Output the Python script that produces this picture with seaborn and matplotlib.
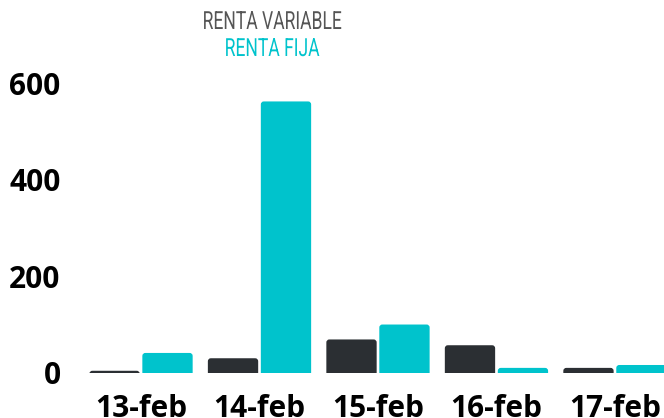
import seaborn as sns
import matplotlib.pyplot as plt
import pandas as pd
from matplotlib.patches import FancyBboxPatch
from matplotlib import patheffects
from matplotlib.transforms import Affine2D

dates = ["13-feb", "14-feb", "15-feb", "16-feb", "17-feb"]
renta_variable = [4, 30, 69, 57, 10]
renta_fija = [41, 563, 100, 10, 16]
series_names = ["RENTA VARIABLE", "RENTA FIJA"]
y_ticks = [0, 200, 400, 600]

dark = "#2b2f33"
teal = "#00c3cc"


class SqueezeX(patheffects.AbstractPathEffect):
    # narrow the glyphs around a centre x (no condensed font installed)
    def __init__(self, sx, cx):
        super().__init__()
        self.sx = sx
        self.cx = cx

    def draw_path(self, renderer, gc, tpath, affine, rgbFace=None):
        t = affine + Affine2D().translate(-self.cx, 0).scale(self.sx, 1).translate(self.cx, 0)
        renderer.draw_path(gc, tpath, t, rgbFace)


def round_bar_tops(ax, radius_px=3):
    # swap the square bars for ones with slightly rounded top corners
    bbox = ax.get_window_extent()
    x0, x1 = ax.get_xlim()
    y0, y1 = ax.get_ylim()
    px_x = bbox.width / (x1 - x0)
    px_y = bbox.height / (y1 - y0)
    rx = radius_px / px_x
    ry = radius_px / px_y
    for bar in list(ax.patches):
        x, y = bar.get_x(), bar.get_y()
        w, h = bar.get_width(), bar.get_height()
        if h <= 0:
            continue
        r = min(rx, w / 2)
        new_bar = FancyBboxPatch((x, y - ry), w, h + ry,
                                 boxstyle=f"round,pad=0,rounding_size={r}",
                                 mutation_aspect=ry / r,
                                 facecolor=bar.get_facecolor(), edgecolor="none",
                                 clip_on=True)
        bar.set_visible(False)
        ax.add_patch(new_bar)


def plot_renta():
    df = pd.DataFrame({
        "fecha": dates * 2,
        "valor": renta_variable + renta_fija,
        "serie": [series_names[0]] * len(dates) + [series_names[1]] * len(dates),
    })

    fig = plt.figure(figsize=(6.64, 4.18), dpi=100)
    ax = fig.add_axes([80 / 664, 1 - 372.7 / 418, 584 / 664, 312.7 / 418])

    sns.barplot(data=df, x="fecha", y="valor", hue="serie", order=dates,
                hue_order=series_names, palette=[dark, teal], saturation=1,
                width=0.894, gap=0.05, legend=False, ax=ax)

    ax.set_xlim(-0.515, 4.414)
    ax.set_ylim(0, 649)
    ax.set_yticks(y_ticks)
    ax.set_xlabel(None)
    ax.set_ylabel(None)
    ax.tick_params(axis="both", length=0)
    ax.tick_params(axis="x", pad=15)
    ax.tick_params(axis="y", pad=14)
    for lab in ax.get_xticklabels() + ax.get_yticklabels():
        lab.set_fontfamily(["Open Sans", "DejaVu Sans"])
        lab.set_fontweight("bold")
        lab.set_fontsize(21.5)
        lab.set_color("#000000")
    sns.despine(left=True, bottom=True)

    round_bar_tops(ax)

    # legend as coloured text
    squeeze = [SqueezeX(0.70, 272)]
    fig.text(272 / 664, 1 - 22 / 418, series_names[0], ha="center", va="center",
             fontsize=18, color="#555555", family=["Roboto", "DejaVu Sans"],
             path_effects=squeeze)
    fig.text(272 / 664, 1 - 49 / 418, series_names[1], ha="center", va="center",
             fontsize=18, color=teal, family=["Roboto", "DejaVu Sans"],
             path_effects=squeeze)

    fig.savefig("out.png", dpi=100)


if __name__ == '__main__':
    sns.set_style("white")
    plot_renta()
